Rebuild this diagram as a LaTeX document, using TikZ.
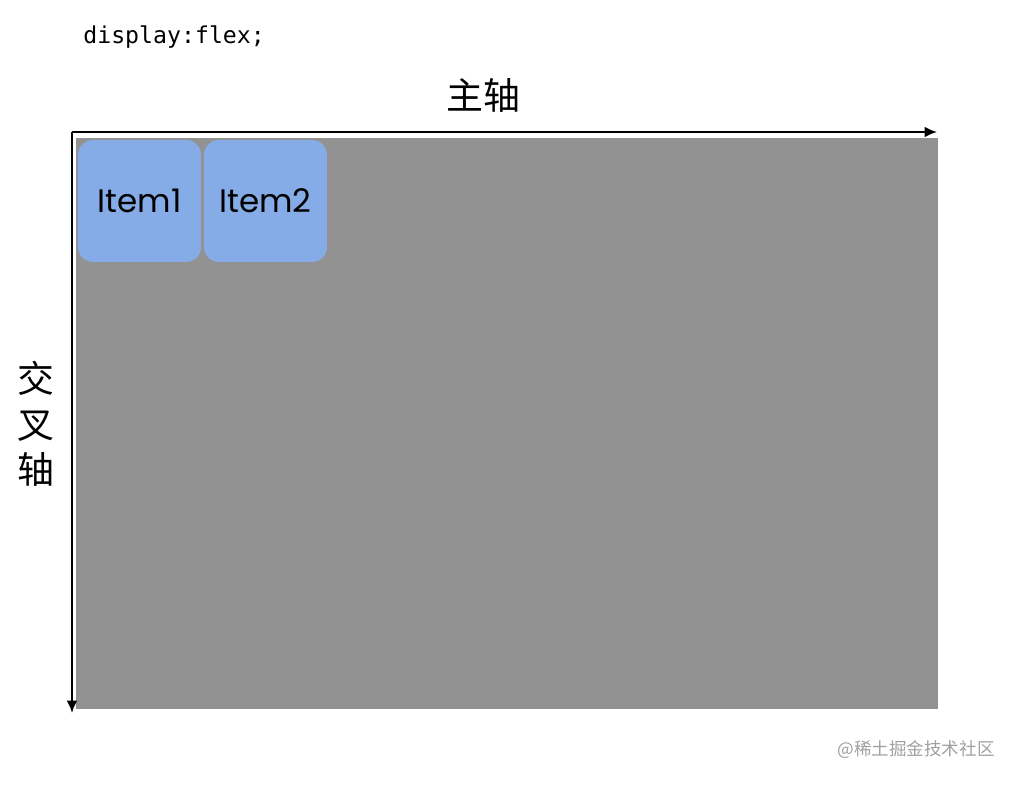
\documentclass[tikz,border=0pt]{standalone}
\usepackage{fontspec}
\setmonofont{DejaVu Sans Mono}
\newfontfamily\cjk{Noto Sans CJK SC}
\newfontfamily\itemfont{Poppins}
\usetikzlibrary{arrows.meta}
\definecolor{boxgray}{HTML}{929292}
\definecolor{itemblue}{HTML}{85ACE7}
\definecolor{markgray}{HTML}{A0A0A0}
\tikzset{
  itembox/.style={fill=itemblue,rounded corners=8.5pt,minimum width=2.46cm,minimum height=2.44cm,inner sep=0pt,font=\itemfont\fontsize{18.5}{22}\selectfont},
  axis/.style={-{Latex[length=7pt,width=6pt]},line width=1.1pt},
  cjklabel/.style={font=\cjk\fontsize{21}{26}\selectfont,inner sep=0pt}
}
\begin{document}
\begin{tikzpicture}[>=latex,x=0.02cm,y=-0.02cm]
\useasboundingbox (0,0) rectangle (1016,784);
\node[anchor=west,inner sep=0pt,font=\ttfamily\fontsize{13.2}{16}\selectfont] (code) at (83,37) {display:flex;};
% container
\fill[boxgray] (76,138) rectangle (938,709);
\node[itembox] (item1) at (139.5,201) {Item1};
\node[itembox] (item2) at (265.5,201) {Item2};
% axes
\coordinate (origin) at (72,132);
\coordinate (mainend) at (937,132);
\coordinate (crossend) at (72,713);
\draw[axis] (origin)--(mainend);
\draw[axis] (origin)--(crossend);
\node[cjklabel] (mainlabel) at (483,95) {主轴};
\node[cjklabel,align=center] (crosslabel) at (36,424) {交\\叉\\轴};
\node[anchor=east,inner sep=0pt,text=markgray,font=\cjk\fontsize{10}{12}\selectfont] (mark) at (995,750) {@稀土掘金技术社区};
\end{tikzpicture}
\end{document}
